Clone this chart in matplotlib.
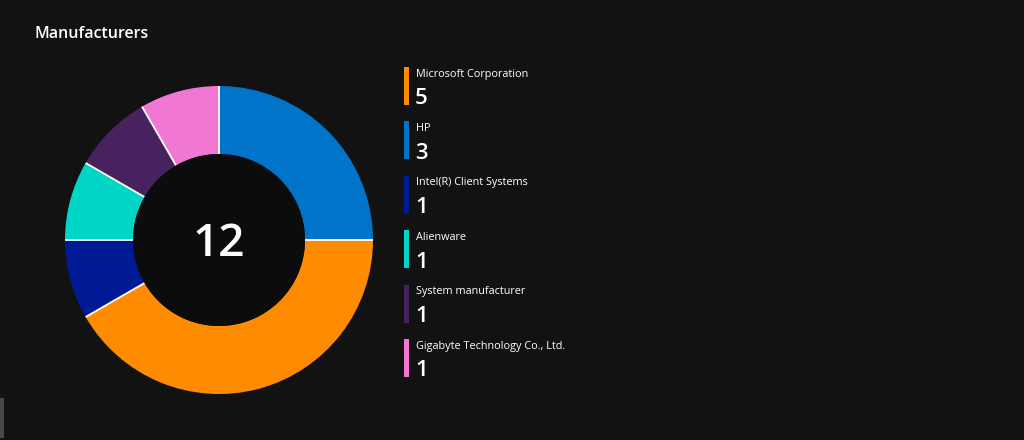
import matplotlib
matplotlib.use('Agg')
import matplotlib.pyplot as plt
import numpy as np
from matplotlib.patches import Circle, Rectangle

# data
manufacturers = ['Microsoft Corporation', 'HP', 'Intel(R) Client Systems',
                 'Alienware', 'System manufacturer', 'Gigabyte Technology Co., Ltd.']
counts = [5, 3, 1, 1, 1, 1]
colors = ['#FF8C00', '#0074C8', '#001A96', '#00D6C8', '#48225F', '#F078D2']
# order of the slices clockwise from 12 o'clock
pie_order = [1, 0, 2, 3, 4, 5]
title = 'Manufacturers'

BG = '#121212'
W, H = 1024, 440

plt.rcParams['font.family'] = ['Open Sans', 'DejaVu Sans']

fig = plt.figure(figsize=(W / 100, H / 100), dpi=100, facecolor=BG)


def px(x, y):
    """pixel coords (top-left origin) -> figure fraction"""
    return x / W, 1 - y / H


# donut
cx, cy, r_out, r_in = 219, 240, 154, 86
box = 165
ax = fig.add_axes([(cx - box) / W, (H - cy - box) / H, 2 * box / W, 2 * box / H])
ax.set_facecolor(BG)
wedges, _ = ax.pie([counts[i] for i in pie_order], colors=[colors[i] for i in pie_order],
                   startangle=90, counterclock=False, radius=r_out, center=(0, 0),
                   frame=False, wedgeprops=dict(width=r_out - r_in, edgecolor='none'))
# white separators between slices only (no outline on the rim)
for w in wedges:
    a = np.deg2rad(w.theta2)
    ax.plot([r_in * np.cos(a), r_out * np.cos(a)], [r_in * np.sin(a), r_out * np.sin(a)],
            color='white', lw=1.3, solid_capstyle='butt', zorder=4)
ax.add_patch(Circle((0, 0), r_in, facecolor='#0c0c0c', edgecolor='none', zorder=5))
ax.text(0, -5, str(sum(counts)), color='white', fontsize=33, ha='center', va='center',
        fontweight='semibold', zorder=6)
ax.set_xlim(-box, box)
ax.set_ylim(-box, box)
ax.set_aspect('equal')
ax.axis('off')

# title
fig.text(*px(35, 34), title, color='white', fontsize=11.5, fontweight='semibold',
         ha='left', va='center')

# legend
top, step = 67, 54.4
for i, (name, n, c) in enumerate(zip(manufacturers, counts, colors)):
    y0 = top + i * step
    bx, by = px(404, y0 + 38)
    fig.add_artist(Rectangle((bx, by), 5 / W, 38 / H, transform=fig.transFigure,
                             facecolor=c, edgecolor='none'))
    fig.text(*px(416, y0 + 7), name, color='white', fontsize=7.8,
             ha='left', va='center')
    fig.text(*px(415, y0 + 32), str(n), color='white', fontsize=16,
             fontweight='semibold', ha='left', va='center')

# scrollbar stub bottom-left
sx, sy = px(0, 438)
fig.add_artist(Rectangle((sx, sy), 4 / W, 40 / H, transform=fig.transFigure,
                         facecolor='#4a4a4a', edgecolor='none'))

fig.savefig('out.png', dpi=100, facecolor=BG)
